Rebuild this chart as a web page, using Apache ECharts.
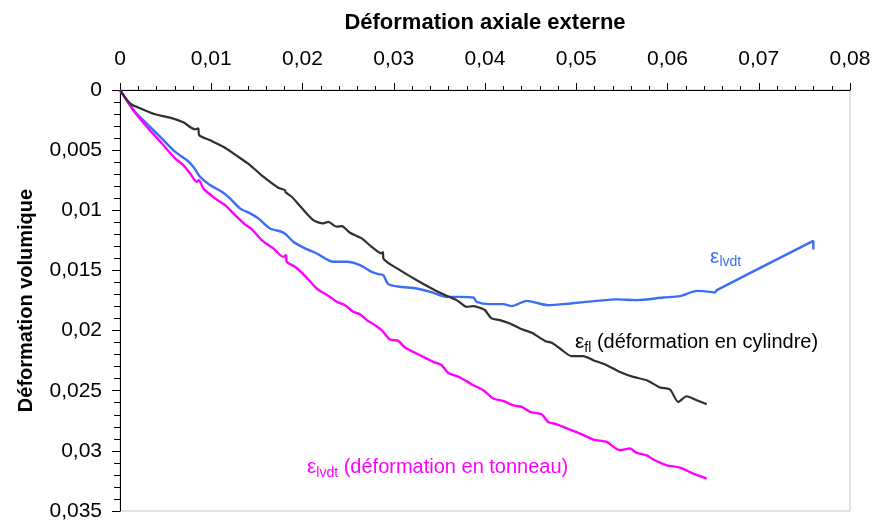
<!DOCTYPE html>
<html><head><meta charset="utf-8">
<script src="https://cdn.jsdelivr.net/npm/echarts@6/dist/echarts.min.js"></script>
<style>html,body{margin:0;padding:0;background:#fff}#c{width:875px;height:523px}</style>
</head><body><div id="c"></div>
<script>
// Axis ranges / ticks
const xMin = 0, xMax = 0.08, xStep = 0.01;
const yMin = 0, yMax = 0.035, yStep = 0.005;

// ε_fl (déformation en cylindre) — [axial, volumique]
const flPoints = [
 [0,0],[0.00110,0.00111],[0.00219,0.00152],[0.00384,0.00202],[0.00548,0.00230],[0.00694,0.00269],
 [0.00822,0.00327],[0.00858,0.00319],[0.00866,0.00374],[0.01005,0.00424],[0.01132,0.00472],
 [0.01296,0.00555],[0.01425,0.00624],[0.01570,0.00721],[0.01735,0.00813],[0.01808,0.00832],
 [0.01815,0.00850],[0.01882,0.00888],[0.01973,0.00965],[0.02118,0.01082],[0.02228,0.01109],
 [0.02283,0.01096],[0.02375,0.01137],[0.02430,0.01131],[0.02521,0.01187],[0.02649,0.01234],
 [0.02758,0.01304],[0.02868,0.01359],[0.02882,0.01348],[0.02886,0.01400],[0.03068,0.01498],
 [0.03252,0.01581],[0.03507,0.01686],[0.03690,0.01747],[0.03800,0.01803],[0.03872,0.01797],
 [0.03964,0.01816],[0.04000,0.01830],[0.04073,0.01899],[0.04164,0.01913],[0.04274,0.01941],
 [0.04384,0.01983],[0.04512,0.02019],[0.04658,0.02086],[0.04731,0.02102],[0.04822,0.02149],
 [0.04950,0.02213],[0.05077,0.02213],[0.05187,0.02246],[0.05334,0.02288],[0.05479,0.02344],
 [0.05625,0.02385],[0.05772,0.02413],[0.05918,0.02473],[0.06027,0.02490],[0.06118,0.02593],
 [0.06210,0.02546],[0.06320,0.02579],[0.06430,0.02612]
];

// ε_lvdt (blue)
const lvdtPoints = [
 [0,0],[0.00164,0.00181],[0.00310,0.00291],[0.00457,0.00402],[0.00603,0.00513],[0.00731,0.00582],
 [0.00803,0.00638],[0.00877,0.00721],[0.00986,0.00790],[0.01115,0.00846],[0.01205,0.00901],
 [0.01315,0.00984],[0.01425,0.01026],[0.01516,0.01067],[0.01644,0.01151],[0.01772,0.01179],
 [0.01827,0.01206],[0.01899,0.01262],[0.02027,0.01317],[0.02156,0.01359],[0.02338,0.01428],
 [0.02484,0.01428],[0.02630,0.01456],[0.02758,0.01512],[0.02831,0.01531],[0.02885,0.01539],
 [0.02940,0.01614],[0.03068,0.01636],[0.03252,0.01650],[0.03433,0.01686],[0.03580,0.01720],
 [0.03726,0.01720],[0.03872,0.01725],[0.03909,0.01761],[0.04055,0.01780],[0.04200,0.01780],
 [0.04293,0.01797],[0.04457,0.01753],[0.04693,0.01789],[0.04932,0.01775],[0.05224,0.01753],
 [0.05443,0.01741],[0.05663,0.01747],[0.05954,0.01725],[0.06137,0.01714],[0.06320,0.01670],
 [0.06392,0.01672],[0.06521,0.01683],[0.06540,0.01664],[0.07598,0.01254],[0.07598,0.01325]
];

// ε_lvdt (déformation en tonneau) (magenta)
const tonneauPoints = [
 [0,0],[0.00164,0.00187],[0.00310,0.00319],[0.00457,0.00443],[0.00603,0.00568],[0.00694,0.00624],
 [0.00767,0.00693],[0.00841,0.00763],[0.00866,0.00749],[0.00913,0.00818],[0.01041,0.00901],
 [0.01151,0.00957],[0.01242,0.01026],[0.01370,0.01117],[0.01443,0.01156],[0.01553,0.01248],
 [0.01680,0.01317],[0.01790,0.01387],[0.01819,0.01373],[0.01827,0.01428],[0.01918,0.01470],
 [0.02027,0.01545],[0.02156,0.01650],[0.02301,0.01720],[0.02375,0.01761],[0.02466,0.01789],
 [0.02557,0.01844],[0.02630,0.01864],[0.02704,0.01913],[0.02795,0.01955],[0.02868,0.01997],
 [0.02959,0.02074],[0.03050,0.02086],[0.03123,0.02141],[0.03288,0.02205],[0.03433,0.02260],
 [0.03525,0.02288],[0.03598,0.02352],[0.03726,0.02390],[0.03872,0.02454],[0.03981,0.02496],
 [0.04091,0.02565],[0.04200,0.02585],[0.04310,0.02621],[0.04402,0.02635],[0.04493,0.02676],
 [0.04621,0.02696],[0.04693,0.02760],[0.04786,0.02779],[0.04932,0.02823],[0.05041,0.02856],
 [0.05187,0.02906],[0.05334,0.02926],[0.05479,0.02995],[0.05589,0.02981],[0.05663,0.03017],
 [0.05772,0.03037],[0.05845,0.03072],[0.05992,0.03120],[0.06137,0.03139],[0.06283,0.03189],
 [0.06430,0.03230]
];

// Annotation anchors (data coords, left-middle of text)
const labelLvdtAt = [0.06466, 0.01389];
const labelFlAt = [0.04986, 0.02097];
const labelTonneauAt = [0.02049, 0.03136];

const C_BLUE = '#3b6ef5', C_BLACK = '#303030', C_MAG = '#ff00ff';
const FONT = "'Liberation Sans', Arial, sans-serif";
const fmt = v => String(+(+v).toFixed(3)).replace('.', ',');

const chart = echarts.init(document.getElementById('c'), null, {renderer: 'canvas'});
chart.setOption({
  animation: false,
  backgroundColor: '#fff',
  textStyle: {fontFamily: FONT},
  grid: {left: 120, top: 90, right: 25, bottom: 12, show: true, borderColor: '#c4c4c4', borderWidth: 1, backgroundColor: 'transparent'},
  xAxis: {
    type: 'value', position: 'top', min: xMin, max: xMax, interval: xStep,
    name: 'Déformation axiale externe', nameLocation: 'middle', nameGap: 56,
    nameTextStyle: {fontFamily: FONT, fontSize: 22, fontWeight: 'bold', color: '#000'},
    axisLine: {show: true, onZero: false, lineStyle: {color: '#000', width: 1}},
    axisTick: {show: true, length: 7, lineStyle: {color: '#000'}},
    minorTick: {show: true, splitNumber: 5, length: 4, lineStyle: {color: '#000'}},
    axisLabel: {fontFamily: FONT, fontSize: 21, color: '#000', margin: 20, formatter: fmt, showMaxLabel: true, showMinLabel: true},
    splitLine: {show: false}
  },
  yAxis: {
    type: 'value', inverse: true, min: yMin, max: yMax, interval: yStep,
    name: 'Déformation volumique', nameLocation: 'middle', nameGap: 84,
    nameTextStyle: {fontFamily: FONT, fontSize: 20, fontWeight: 'bold', color: '#000'},
    axisLine: {show: true, onZero: false, lineStyle: {color: '#000', width: 1}},
    axisTick: {show: true, length: 8, lineStyle: {color: '#000'}},
    minorTick: {show: true, splitNumber: 5, length: 6, lineStyle: {color: '#000'}},
    axisLabel: {fontFamily: FONT, fontSize: 21, color: '#000', margin: 18, formatter: fmt},
    splitLine: {show: false}
  },
  series: [
    {name: 'fl', type: 'line', data: flPoints, showSymbol: false, smooth: 0.25, lineStyle: {color: C_BLACK, width: 2.2}, z: 3},
    {name: 'lvdt', type: 'line', data: lvdtPoints, showSymbol: false, smooth: 0.25, lineStyle: {color: C_BLUE, width: 2.4}, z: 2},
    {name: 'tonneau', type: 'line', data: tonneauPoints, showSymbol: false, smooth: 0.25, lineStyle: {color: C_MAG, width: 2.4}, z: 2}
  ]
});

function mkLabel(at, text, color) {
  const p = chart.convertToPixel({gridIndex: 0}, at);
  return {
    type: 'text', x: p[0], y: p[1], z: 10,
    style: {
      text: text, fill: color, font: '20px ' + FONT, verticalAlign: 'middle', align: 'left',
      rich: {
        e: {fontSize: 21, fontFamily: FONT, fill: color},
        s: {fontSize: 14, fontFamily: FONT, fill: color, padding: [11, 0, 0, 0]},
        t: {fontSize: 20, fontFamily: FONT, fill: color}
      }
    }
  };
}
chart.setOption({
  graphic: [
    mkLabel(labelLvdtAt, '{e|ε}{s|lvdt}', C_BLUE),
    mkLabel(labelFlAt, '{e|ε}{s|fl}{t| (déformation en cylindre)}', '#000'),
    mkLabel(labelTonneauAt, '{e|ε}{s|lvdt}{t| (déformation en tonneau)}', C_MAG)
  ]
});
</script>
</body></html>
